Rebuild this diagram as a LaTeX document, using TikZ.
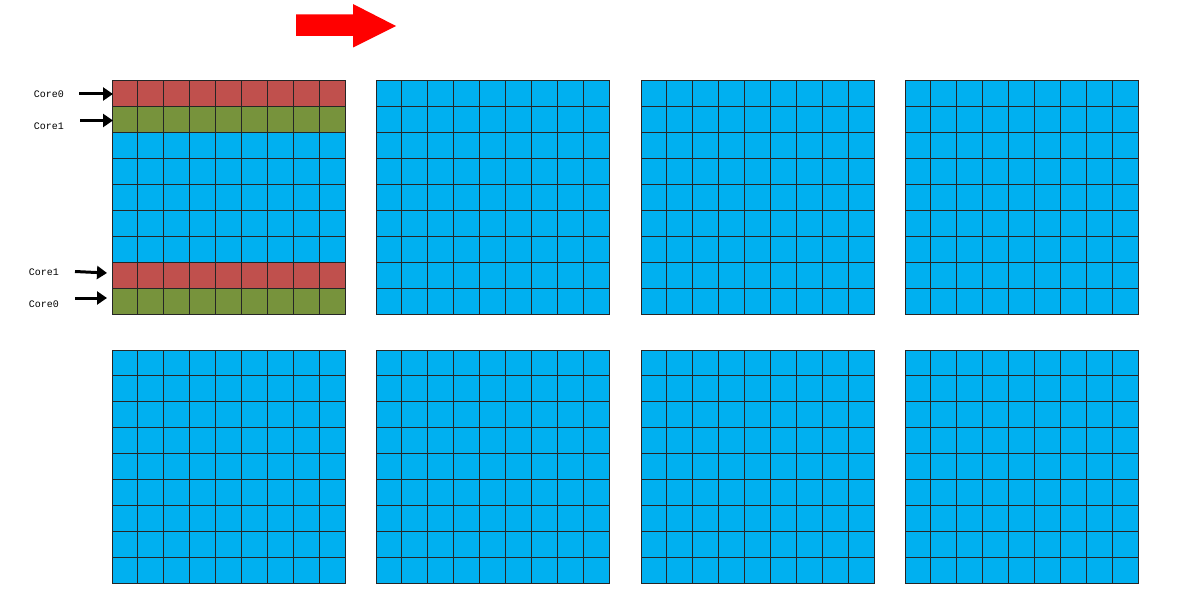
\documentclass[tikz,border=0pt]{standalone}
\usepackage{fontspec}
\setmonofont{Liberation Mono}
\usetikzlibrary{arrows.meta}
\definecolor{cred}{HTML}{C0504D}
\definecolor{cgreen}{HTML}{77933C}
\definecolor{cblue}{HTML}{00B0F0}
\definecolor{cline}{HTML}{262626}
\tikzset{
  gridline/.style={draw=cline, line width=1pt, line cap=rect},
  corelabel/.style={font=\ttfamily\fontsize{10}{12}\selectfont, inner sep=0pt},
  corearrow/.style={line width=3pt, -{Triangle[length=10pt,width=13pt]}},
}
\begin{document}
\begin{tikzpicture}[x=1pt,y=-1pt]
\useasboundingbox (0,0) rectangle (1188,615);
\def\cs{25.8889}
% blue backgrounds
\foreach \gx/\gy in {112/81,376/81,641/81,905/81,112/350,376/350,641/350,905/350}{
  \fill[cblue] (\gx,\gy) rectangle ++(233,233);
}
% coloured rows in first grid
\fill[cred]   (112,81) rectangle ++(233,\cs);
\fill[cgreen] (112,81+\cs) rectangle ++(233,\cs);
\fill[cred]   (112,81+7*\cs) rectangle ++(233,\cs);
\fill[cgreen] (112,81+8*\cs) rectangle ++(233,\cs);
% grid lines
\foreach \gx/\gy in {112/81,376/81,641/81,905/81,112/350,376/350,641/350,905/350}{
  \foreach \i in {0,...,9}{
    \draw[gridline] (\gx+\i*\cs,\gy) -- ++(0,233);
    \draw[gridline] (\gx,\gy+\i*\cs) -- ++(233,0);
  }
}
% red direction arrow
\fill[red] (296,14.5) -- (353,14.5) -- (353,4) -- (396,26) -- (353,47.5) -- (353,36) -- (296,36) -- cycle;
% labels
\node[corelabel] (l0) at (49,94) {Core0};
\node[corelabel] (l1) at (49,126) {Core1};
\node[corelabel] (l2) at (44,272) {Core1};
\node[corelabel] (l3) at (44,304) {Core0};
% arrow endpoints
\coordinate (a0s) at (79,94);   \coordinate (a0e) at (113,94);
\coordinate (a1s) at (80,120.5); \coordinate (a1e) at (113,120.5);
\coordinate (a2s) at (75,271.5); \coordinate (a2e) at (107,273);
\coordinate (a3s) at (75,298);  \coordinate (a3e) at (107,298);
\draw[corearrow] (a0s) -- (a0e);
\draw[corearrow] (a1s) -- (a1e);
\draw[corearrow] (a2s) -- (a2e);
\draw[corearrow] (a3s) -- (a3e);
\end{tikzpicture}
\end{document}
